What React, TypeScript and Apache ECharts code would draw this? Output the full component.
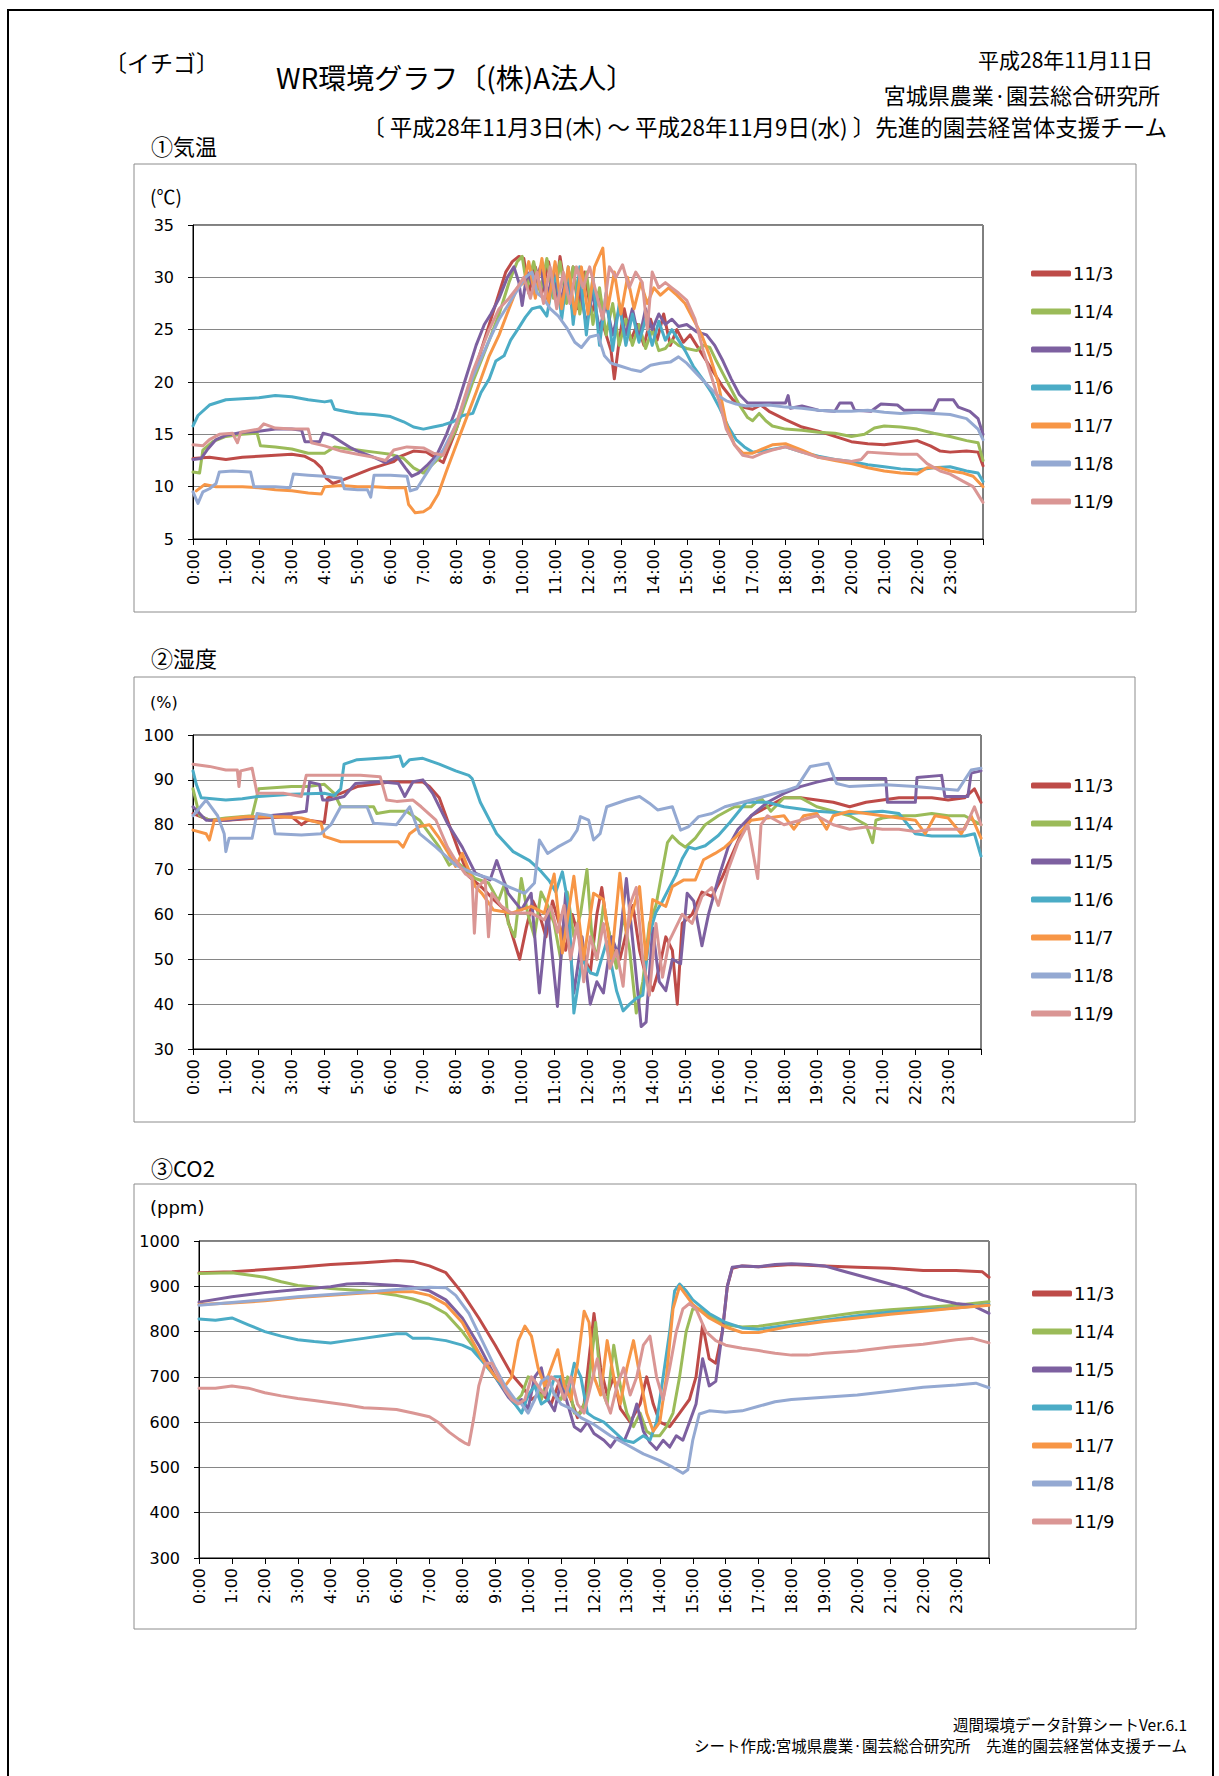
import React, { useEffect, useRef } from "react";
import * as echarts from "echarts";

type P = [number, number][];

const DAYS = ["11/3", "11/4", "11/5", "11/6", "11/7", "11/8", "11/9"];
const COLORS = ["#BE4B48", "#9BBB59", "#7D60A0", "#4BACC6", "#F79646", "#94A9D2", "#DA9694"];

const HOUR_LABELS = [
  "0:00", "1:00", "2:00", "3:00", "4:00", "5:00", "6:00", "7:00", "8:00", "9:00", "10:00", "11:00",
  "12:00", "13:00", "14:00", "15:00", "16:00", "17:00", "18:00", "19:00", "20:00", "21:00", "22:00", "23:00",
];
const TEMP_TICKS = [5, 10, 15, 20, 25, 30, 35];
const HUM_TICKS = [30, 40, 50, 60, 70, 80, 90, 100];
const CO2_TICKS = [300, 400, 500, 600, 700, 800, 900, 1000];

// ---------- ① temperature (hour, °C) ----------
const TEMP_11_3: P = [[0,12.7],[0.5,12.8],[1,12.6],[1.5,12.8],[2,12.9],[2.5,13],[3,13.1],[3.4,12.9],[3.7,12.4],[3.9,11.8],[4.05,10.8],[4.25,10.3],[4.6,10.7],[5,11.2],[5.4,11.7],[5.8,12.1],[6.1,12.4],[6.3,12.9],[6.7,13.4],[7.1,13.3],[7.4,12.7],[7.6,12.3],[8,15.5],[8.5,20.5],[9,25.5],[9.3,28.5],[9.5,30.5],[9.7,31.5],[9.9,32],[10.05,31.8],[10.2,28.5],[10.4,31],[10.6,28.5],[10.8,31.5],[11,28],[11.15,32],[11.35,28],[11.55,31],[11.7,27],[11.9,30.5],[12.1,26.5],[12.3,28.5],[12.5,25],[12.7,23],[12.8,20.3],[12.95,24],[13.1,27],[13.3,24],[13.5,25.5],[13.7,23.5],[13.9,26],[14.1,24],[14.3,26.5],[14.5,23.5],[14.7,25],[14.9,23.8],[15.1,24.5],[15.3,23.5],[15.5,22.5],[15.8,21],[16.1,19.5],[16.4,18.3],[16.7,17.6],[17,17.4],[17.25,17.8],[17.5,17.2],[18,16.4],[18.5,15.7],[19,15.3],[19.5,14.8],[20,14.3],[20.5,14.1],[21,14],[21.5,14.2],[22,14.4],[22.4,13.9],[22.7,13.4],[23,13.3],[23.5,13.4],[23.85,13.3],[24,12]];
const TEMP_11_4: P = [[0,11.4],[0.2,11.3],[0.3,13.5],[0.6,14.3],[1,14.8],[1.5,15],[1.95,15.1],[2.05,13.9],[2.5,13.8],[3,13.6],[3.5,13.2],[4,13.2],[4.3,13.8],[4.7,13.6],[5,13.5],[5.5,13.3],[6,13.1],[6.4,12.7],[6.7,11.8],[7,11.3],[7.3,12.2],[7.6,13.1],[8,15.5],[8.5,20],[9,24],[9.3,26.5],[9.6,29.5],[9.85,31.5],[10,32],[10.15,29],[10.35,31.5],[10.55,28.5],[10.75,31.8],[10.95,28],[11.15,31.5],[11.35,27.5],[11.55,31],[11.75,26.5],[11.95,30.5],[12.15,25.5],[12.35,29],[12.55,24.5],[12.75,27.5],[12.95,23.5],[13.15,26],[13.35,23.5],[13.55,25.5],[13.75,23.2],[13.95,25],[14.15,23],[14.35,23.2],[14.55,24],[14.75,23.5],[15,23.2],[15.3,23],[15.5,23.5],[15.7,23.3],[15.9,22],[16.1,20.8],[16.35,19.3],[16.6,17.8],[16.85,16.6],[17,16.3],[17.2,17],[17.4,16.3],[17.6,15.8],[18,15.5],[18.5,15.4],[19,15.2],[19.5,15.1],[20,14.8],[20.4,15],[20.7,15.6],[21,15.8],[21.5,15.7],[22,15.5],[22.5,15.1],[23,14.8],[23.5,14.4],[23.85,14.2],[24,12.5]];
const TEMP_11_5: P = [[0,12.6],[0.25,12.7],[0.45,13.6],[0.7,14.5],[1,14.9],[1.5,15.2],[2,15.3],[2.5,15.5],[3,15.5],[3.3,15.4],[3.4,14.3],[3.85,14.3],[3.95,15.1],[4.2,14.9],[4.5,14.3],[4.8,13.7],[5,13.4],[5.5,12.8],[5.85,12.3],[6.05,12.6],[6.2,12.9],[6.45,11.8],[6.65,11],[6.85,11.3],[7.1,12],[7.4,13],[7.7,15],[8,17.5],[8.3,20.5],[8.6,23.5],[8.85,25.5],[9.05,26.5],[9.3,28],[9.55,30],[9.75,31],[9.9,29.5],[10,27.3],[10.15,30.5],[10.35,29],[10.55,31],[10.75,28],[10.95,30.5],[11.15,27.5],[11.35,30],[11.55,26.5],[11.75,29],[11.95,25.5],[12.15,28.5],[12.35,25],[12.55,27.5],[12.75,24.5],[12.95,27],[13.15,24.5],[13.35,27],[13.55,24],[13.75,27],[13.95,25],[14.15,26.5],[14.35,25.5],[14.55,26],[14.75,25.3],[15,25.5],[15.3,24.8],[15.6,24.5],[15.85,23.5],[16.1,22],[16.35,20.3],[16.6,18.8],[16.85,18],[17.2,18],[17.6,18],[18,18],[18.08,18.7],[18.15,17.5],[18.5,17.7],[19,17.3],[19.5,17.2],[19.65,18],[20,18],[20.1,17.3],[20.6,17.2],[20.9,17.9],[21.4,17.8],[21.6,17.3],[22.5,17.3],[22.65,18.3],[23.1,18.3],[23.25,17.6],[23.6,17.2],[23.85,16.5],[24,15]];
const TEMP_11_6: P = [[0,15.8],[0.15,16.8],[0.5,17.8],[1,18.3],[1.5,18.4],[2,18.5],[2.5,18.7],[3,18.6],[3.5,18.3],[4,18.1],[4.2,18.2],[4.3,17.4],[4.6,17.2],[5,17],[5.5,16.9],[6,16.7],[6.4,16.2],[6.7,15.7],[7,15.5],[7.3,15.7],[7.6,15.9],[7.9,16.2],[8.2,16.8],[8.5,17],[8.75,19],[9,20.3],[9.2,22],[9.45,22.5],[9.65,24],[9.9,25.2],[10.1,26.2],[10.3,27],[10.55,27.2],[10.75,26.3],[10.9,29],[11.05,30.2],[11.2,26],[11.4,31],[11.55,25.5],[11.75,31],[11.95,24.5],[12.15,30],[12.35,23.5],[12.55,28.5],[12.75,23],[12.95,27.5],[13.15,23.5],[13.35,26.5],[13.55,23.8],[13.75,26],[13.95,23.5],[14.15,25.8],[14.35,24],[14.55,25],[14.75,24],[14.95,23],[15.2,21.5],[15.5,20.2],[15.75,19],[16,17.5],[16.25,15.8],[16.5,14.5],[16.75,13.8],[17,13.3],[17.5,13.5],[18,13.8],[18.5,13.3],[19,12.9],[19.5,12.6],[20,12.4],[20.5,12.1],[21,11.9],[21.5,11.7],[22,11.6],[22.5,11.8],[23,11.9],[23.5,11.5],[23.85,11.3],[24,10.5]];
const TEMP_11_7: P = [[0.1,9.6],[0.35,10.2],[0.7,10],[1.5,10],[2,9.9],[2.5,9.7],[3,9.6],[3.5,9.4],[3.9,9.3],[4,10],[4.5,10.1],[5,10],[5.5,10],[6,9.9],[6.45,9.9],[6.55,8.3],[6.75,7.5],[7,7.6],[7.2,8],[7.45,9.3],[7.7,11.5],[8,14],[8.3,16.5],[8.6,19],[9,22.5],[9.3,24.5],[9.6,27],[9.85,29],[10.05,29.5],[10.2,31.5],[10.4,28],[10.6,31.8],[10.8,27.5],[11,31.5],[11.2,27],[11.4,31],[11.6,26.5],[11.8,31],[12,26.5],[12.2,31],[12.45,32.8],[12.6,27],[12.8,30.5],[13,26.5],[13.2,30],[13.4,27],[13.6,29.5],[13.8,27.5],[14,29],[14.2,28.3],[14.45,29],[14.7,28.3],[14.95,27.5],[15.2,26],[15.45,24.5],[15.7,22.5],[15.95,20],[16.2,16],[16.45,14],[16.7,13.2],[17,13.2],[17.3,13.6],[17.6,14],[18,14.1],[18.5,13.5],[19,12.8],[19.5,12.5],[20,12.2],[20.5,11.8],[21,11.5],[21.5,11.3],[22,11.2],[22.3,11.8],[22.7,11.8],[23,11.5],[23.4,11.3],[23.7,11],[24,10]];
const TEMP_11_8: P = [[0,9.5],[0.15,8.4],[0.3,9.5],[0.5,9.8],[0.7,10.3],[0.8,11.4],[1.2,11.5],[1.75,11.4],[1.85,10],[2.5,10],[2.95,9.9],[3.05,11.2],[3.5,11.1],[4,11],[4.5,10.8],[4.6,9.8],[5,9.7],[5.3,9.7],[5.4,9],[5.5,11.1],[6,11.1],[6.5,11],[6.6,9.6],[6.8,9.8],[7,10.8],[7.3,12.3],[7.6,13.5],[8,16],[8.5,20.5],[9,24],[9.3,26],[9.6,27.5],[9.9,29],[10.1,30],[10.3,30.5],[10.45,28.5],[10.65,28],[10.85,27],[11.1,26.3],[11.35,25.2],[11.6,23.8],[11.8,23.3],[12.05,24.3],[12.3,24.5],[12.5,22.5],[12.7,21.8],[13,21.5],[13.3,21.2],[13.6,21],[13.9,21.6],[14.2,21.8],[14.5,21.9],[14.75,22.4],[15,21.8],[15.3,20.8],[15.6,19.8],[15.9,18.8],[16.2,18.2],[16.5,17.9],[16.8,17.7],[17.5,17.8],[18,17.6],[18.5,17.5],[19,17.3],[19.5,17.2],[20,17.2],[20.5,17.3],[21,17.1],[21.5,17],[22,17.1],[22.5,17],[23,16.9],[23.5,16.5],[23.85,15.5],[24,14.5]];
const TEMP_11_9: P = [[0,14],[0.3,13.9],[0.5,14.5],[0.8,15],[1.2,15.1],[1.35,14.2],[1.45,15.2],[2,15.5],[2.15,16],[2.5,15.6],[3,15.5],[3.5,15.5],[3.6,14.2],[4,13.9],[4.5,13.4],[5,13.1],[5.5,12.8],[5.85,12.5],[6.1,13.5],[6.5,13.8],[7,13.7],[7.3,13.2],[7.6,13],[8,16],[8.5,21],[9,25],[9.3,27],[9.6,28],[9.85,29],[10.05,30],[10.25,28],[10.45,30.5],[10.65,27.5],[10.85,31],[11.05,27],[11.25,30.5],[11.45,27.5],[11.65,31],[11.85,29],[12.05,31],[12.25,28.5],[12.45,26],[12.65,31],[12.85,30],[13.05,31.2],[13.25,29],[13.45,30.5],[13.65,29.5],[13.8,25],[13.95,30.5],[14.15,29],[14.35,29.5],[14.55,29],[14.75,28.5],[15,27.8],[15.25,26],[15.5,23],[15.75,20.5],[16,18],[16.2,15.5],[16.45,14],[16.7,13],[17,12.8],[17.3,13.2],[17.6,13.5],[18,13.8],[18.5,13.3],[19,12.8],[19.5,12.6],[20,12.4],[20.3,12.6],[20.5,13.3],[21,13.2],[21.5,13.1],[22,13.1],[22.3,12.2],[22.7,11.5],[23,11.2],[23.4,10.5],[23.7,10],[24,8.5]];

// ---------- ② humidity (hour, %) ----------
const HUM_11_3: P = [[0,82.5],[0.5,81],[1,81],[2,81.5],[3,81.8],[3.3,80],[3.5,81],[4,80.5],[4.1,86],[4.5,87],[5,88.5],[5.5,89],[6,89.5],[6.5,89.5],[7,89.5],[7.2,88.5],[7.5,86],[7.8,80],[8.1,74],[8.4,68.5],[8.8,66],[9.2,63],[9.5,61],[9.7,56],[9.95,50],[10.15,57],[10.35,63],[10.55,60],[10.75,55],[10.95,63],[11.15,58],[11.35,52],[11.55,60],[11.75,55],[11.95,50],[12.1,47],[12.3,60],[12.45,66],[12.6,58],[12.8,52],[13,50],[13.2,56],[13.4,62],[13.6,52],[13.8,46],[14,43],[14.2,48],[14.4,55],[14.6,52],[14.75,40],[14.9,58],[15.2,60],[15.5,65],[15.8,64],[16.1,68],[16.4,73],[16.7,78],[17,82],[17.5,84],[18,86],[18.5,86],[19,85.5],[19.5,85],[20,84],[20.5,85],[21,85.5],[21.5,86],[22,86],[22.5,86],[23,85.5],[23.5,86],[23.8,88],[24,85]];
const HUM_11_4: P = [[0,88],[0.2,82],[0.5,81],[1,81.5],[1.8,82],[2,88],[3,88.5],[3.5,88.5],[4,89],[4.3,87],[4.5,84],[5,84],[5.5,84],[5.6,82.5],[6,83],[6.5,83],[6.9,81],[7.2,78],[7.5,75],[7.8,71],[8,72],[8.3,70],[8.6,68],[9,67],[9.3,63],[9.5,67],[9.6,58],[9.8,55],[10,68],[10.2,60],[10.4,55],[10.6,65],[10.8,62],[11,58],[11.2,50],[11.4,65],[11.6,55],[11.8,60],[12,70],[12.15,55],[12.3,50],[12.5,62],[12.7,55],[12.9,48],[13.1,60],[13.3,52],[13.5,38],[13.7,45],[13.9,58],[14.1,62],[14.3,70],[14.45,76],[14.6,77.5],[14.8,76],[15,75],[15.3,77],[15.6,80],[16,82],[16.5,84],[17,84],[17.3,86],[17.6,83],[18,86],[18.5,86],[19,84],[19.5,83],[20,82],[20.5,80],[20.7,76],[20.8,81],[21,81.5],[21.5,82],[22,82],[22.5,82.5],[23,82],[23.5,82],[24,80]];
const HUM_11_5: P = [[0,84],[0.4,81],[1,81],[2,81.8],[3,82.5],[3.45,83],[3.55,89.5],[3.85,89],[3.95,85.5],[4.15,85.5],[4.6,86.3],[4.95,89.2],[5.7,89.6],[6.25,89.2],[6.45,86.3],[6.7,89.6],[7,90],[7.3,87],[7.75,80.3],[8.2,75],[8.6,69.2],[9.05,67.7],[9.25,72],[9.6,64.7],[10,61],[10.3,64.7],[10.55,42.5],[10.8,61],[11.1,39.5],[11.35,64.7],[11.6,42.5],[11.85,55],[12.1,40],[12.3,45],[12.5,42.5],[12.75,55],[12.95,51],[13.2,68],[13.45,50],[13.65,35],[13.8,36],[14,57],[14.2,45],[14.4,43],[14.6,50],[14.85,49],[15.05,64.7],[15.25,63],[15.5,53],[15.7,60],[16,68],[16.3,75],[16.6,79],[17,82],[17.5,85],[18,87],[18.5,88.5],[19,89.5],[19.5,90.3],[20,90.3],[20.5,90.3],[21.1,90.3],[21.15,85],[22,85],[22.05,90.5],[22.8,91],[22.9,86.3],[23.6,86.3],[23.7,91.5],[24,92]];
const HUM_11_6: P = [[0,92],[0.1,89],[0.25,86],[1,85.5],[1.5,85.8],[2,86.3],[3,86.8],[4,87],[4.3,86.5],[4.5,88],[4.6,93.5],[5,94.5],[6,95],[6.3,95.3],[6.4,93],[6.6,94.5],[7,94.8],[7.5,93.5],[8,92],[8.4,91],[8.5,90.3],[8.75,85],[9.25,78],[9.75,74],[10.25,72],[10.55,70],[10.85,67.5],[11.05,65],[11.25,69.5],[11.45,61.5],[11.6,38],[11.85,50],[12.1,47],[12.3,46.5],[12.6,54],[12.9,43],[13.1,38.5],[13.3,40],[13.5,41.3],[13.7,42],[13.9,55.5],[14.1,60.5],[14.3,63],[14.7,68.7],[14.9,72.4],[15.1,75],[15.3,74.6],[15.6,75.3],[16,77.6],[16.35,80.5],[16.85,85],[17.5,85],[18,84],[19,83],[20,82.5],[21,83],[21.5,82.5],[22,78],[22.5,77.5],[23,77.5],[23.5,77.5],[23.8,78],[24,73]];
const HUM_11_7: P = [[0,78.8],[0.4,78],[0.5,76.6],[0.65,81],[1.6,81.8],[2.75,81.8],[3.3,81.5],[3.9,80.3],[4,77.4],[4.5,76.2],[5.1,76.2],[6.25,76.2],[6.4,75],[6.6,78],[6.9,79.6],[7.2,80],[7.5,77],[7.75,74],[8,70.7],[8.2,73.6],[8.6,66.2],[8.8,64.7],[9.15,61],[9.7,60.3],[10.3,61.8],[10.7,60.3],[11,69],[11.25,51.4],[11.6,68.5],[11.9,50],[12.2,64.7],[12.5,63.3],[12.75,50],[13,69.2],[13.2,55.8],[13.6,66.2],[13.8,50],[14,63.3],[14.4,61.8],[14.6,66.2],[14.95,67.7],[15.3,67.7],[15.55,72.2],[15.9,73.6],[16.2,75],[16.5,77],[17,81],[17.5,81.5],[18,82],[18.3,79],[18.6,82],[19,82.5],[19.3,79],[19.5,82],[20,83],[21,82],[22,81],[22.3,78],[22.6,82],[23,81.5],[23.4,78],[23.7,82],[24,77]];
const HUM_11_8: P = [[0,82],[0.4,85.5],[0.75,82],[0.95,78],[1,74],[1.1,77],[1.8,77],[1.95,82.5],[2.4,82],[2.5,78],[3.3,77.7],[3.9,78],[4.2,80],[4.5,84],[5.3,84],[5.5,80.3],[6.2,80],[6.6,84],[6.9,78],[7.4,75],[8,71],[8.6,69],[9.2,67.7],[9.6,66.2],[10.1,64.7],[10.4,67],[10.55,76.6],[10.8,73.6],[11.1,75],[11.5,76.6],[11.7,78.8],[11.8,81.8],[12.05,81],[12.2,76.6],[12.4,78],[12.6,84],[13.2,85.5],[13.6,86.3],[13.9,84.8],[14.15,83.3],[14.6,84],[14.85,78.8],[15.1,79.6],[15.4,81.8],[15.8,82.5],[16.2,84],[17,85.5],[17.5,86.5],[18,87.5],[18.4,88.5],[18.8,93],[19.35,93.7],[19.6,89.2],[20,88.5],[21.1,88.9],[22,88.5],[23.3,87.7],[23.7,92.2],[24,92.6]];
const HUM_11_9: P = [[0,93.5],[0.5,93],[1,92.2],[1.35,92.2],[1.4,88.5],[1.45,92],[1.8,92.6],[1.95,87],[2.75,87],[3.3,86.3],[3.45,91],[4.5,91],[5.1,91],[5.7,90.7],[5.9,85.5],[6.2,85.2],[6.7,85.5],[6.95,84],[7.4,81],[7.75,75],[8,72],[8.3,69],[8.5,68],[8.57,55.8],[8.65,66],[8.9,67.7],[9,55],[9.1,64.7],[9.4,61.8],[9.7,60.3],[10.3,60.3],[10.7,58.8],[10.9,61.8],[11.1,56],[11.3,62],[11.5,50],[11.7,58],[11.9,45],[12.1,55],[12.3,50],[12.5,58],[12.7,48],[12.9,52],[13.1,44],[13.3,62],[13.5,66],[13.7,50],[13.9,42],[14.1,58],[14.3,46],[14.5,54],[14.7,57],[14.9,60],[15.2,58],[15.5,64],[15.8,66],[16,62],[16.3,70],[16.6,76],[16.9,80],[17.2,68],[17.3,80],[17.5,82],[18,80],[18.5,81],[19,82],[19.5,80],[20,79],[20.5,79.5],[21,79],[21.5,79],[22,78.5],[22.5,79],[23,79],[23.5,79],[23.8,84],[24,80]];

// ---------- ③ CO2 (hour, ppm) ----------
const CO2_11_3: P = [[0,930],[1,932],[2,937],[3,942],[4,948],[5,952],[6,957],[6.5,955],[7,945],[7.5,930],[8,885],[8.5,830],[9,770],[9.5,705],[9.8,680],[10.1,650],[10.4,665],[10.7,640],[11,700],[11.2,670],[11.5,610],[11.7,640],[12,840],[12.2,720],[12.4,660],[12.6,700],[12.8,630],[13.1,600],[13.4,640],[13.6,700],[13.8,640],[14,600],[14.3,590],[14.6,620],[14.9,650],[15.1,700],[15.3,815],[15.5,740],[15.7,730],[15.9,800],[16.05,900],[16.2,940],[16.5,945],[17,943],[18,948],[19,945],[20,942],[21,940],[22,935],[23,935],[23.8,932],[24,920]];
const CO2_11_4: P = [[0,928],[1,930],[2,920],[2.5,910],[3,902],[4,895],[5,890],[6,880],[6.5,872],[7,860],[7.5,840],[8,800],[8.3,770],[8.6,740],[9,700],[9.4,660],[9.6,645],[9.8,660],[10,700],[10.2,690],[10.4,650],[10.6,700],[10.8,660],[11,650],[11.2,700],[11.4,620],[11.6,620],[11.8,660],[12.05,820],[12.2,680],[12.4,640],[12.6,770],[12.8,680],[13,620],[13.2,590],[13.4,620],[13.6,580],[13.8,570],[14,570],[14.2,590],[14.4,620],[14.6,700],[14.8,800],[15,850],[15.2,850],[15.5,835],[16,815],[16.5,810],[17,812],[18,822],[19,832],[20,842],[21,848],[22,853],[23,858],[24,866]];
const CO2_11_5: P = [[0,865],[1,877],[2,886],[3,893],[4,899],[4.5,905],[5,906],[6,902],[6.5,898],[7,890],[7.5,870],[8,830],[8.5,770],[9,700],[9.4,655],[9.6,640],[9.8,650],[10,630],[10.2,700],[10.4,720],[10.6,650],[10.8,625],[11,690],[11.2,640],[11.4,590],[11.6,580],[11.8,600],[12,575],[12.3,560],[12.5,545],[12.7,565],[12.9,555],[13.1,590],[13.3,640],[13.5,580],[13.7,555],[13.9,540],[14.1,560],[14.3,545],[14.5,570],[14.7,560],[14.9,600],[15.1,640],[15.3,740],[15.5,680],[15.7,690],[15.9,800],[16.05,900],[16.2,942],[16.5,945],[17,943],[17.5,948],[18,950],[18.5,948],[19,945],[19.5,935],[20,925],[20.5,915],[21,905],[21.5,895],[22,880],[22.5,870],[23,862],[23.5,858],[24,840]];
const CO2_11_6: P = [[0,828],[0.5,825],[1,830],[1.5,815],[2,800],[2.5,790],[3,782],[3.5,778],[4,775],[4.5,780],[5,785],[5.5,790],[6,795],[6.3,795],[6.5,785],[7,785],[7.5,780],[8,770],[8.3,760],[8.6,735],[9,700],[9.3,670],[9.6,640],[9.8,620],[10,660],[10.2,680],[10.4,640],[10.6,650],[10.8,700],[11,700],[11.2,660],[11.4,730],[11.6,700],[11.8,620],[12,610],[12.3,600],[12.6,580],[12.9,560],[13.2,555],[13.5,570],[13.7,560],[13.9,600],[14.1,700],[14.3,800],[14.45,890],[14.6,905],[14.8,890],[15,870],[15.5,840],[16,820],[16.5,808],[17,805],[18,815],[19,825],[20,835],[21,843],[22,848],[23,852],[24,860]];
const CO2_11_7: P = [[0,860],[1,863],[2,868],[3,875],[4,880],[5,885],[6,888],[6.5,888],[7,880],[7.5,860],[8,820],[8.3,780],[8.6,740],[9,700],[9.3,680],[9.5,700],[9.7,780],[9.9,812],[10.1,790],[10.3,720],[10.5,680],[10.7,720],[10.9,760],[11.1,680],[11.3,650],[11.5,730],[11.7,845],[11.85,820],[12,700],[12.2,660],[12.4,780],[12.6,700],[12.8,640],[13,720],[13.2,780],[13.4,700],[13.6,620],[13.8,580],[14,600],[14.2,700],[14.4,850],[14.6,900],[14.8,880],[15,860],[15.5,830],[16,810],[16.5,798],[17,798],[18,812],[19,822],[20,830],[21,838],[22,845],[23,852],[24,858]];
const CO2_11_8: P = [[0,858],[1,864],[2,870],[3,877],[4,882],[5,887],[6,893],[7,898],[7.5,897],[7.8,880],[8.2,840],[8.6,780],[9,720],[9.3,680],[9.6,650],[9.8,640],[10,620],[10.2,650],[10.4,690],[10.6,700],[10.8,660],[11,640],[11.3,630],[11.6,610],[12,595],[12.5,570],[13,550],[13.5,530],[14,515],[14.4,500],[14.7,487],[14.85,495],[15,560],[15.2,618],[15.5,625],[16,622],[16.5,625],[17,635],[17.5,645],[18,650],[19,655],[20,660],[21,668],[22,677],[23,682],[23.6,686],[24,676]];
const CO2_11_9: P = [[0,675],[0.5,675],[1,680],[1.5,675],[2,665],[2.5,658],[3,652],[3.5,648],[4,643],[4.5,638],[5,632],[5.5,630],[6,628],[6.5,620],[7,612],[7.3,598],[7.6,578],[7.9,562],[8.1,553],[8.2,550],[8.35,610],[8.5,680],[8.7,730],[8.9,730],[9.1,700],[9.3,670],[9.5,650],[9.7,640],[9.9,650],[10.1,700],[10.3,680],[10.5,660],[10.7,700],[10.9,690],[11.1,650],[11.3,700],[11.5,640],[11.7,620],[11.9,680],[12.1,740],[12.3,660],[12.5,620],[12.7,680],[12.9,720],[13.1,660],[13.3,700],[13.5,770],[13.7,790],[13.9,700],[14.1,650],[14.3,720],[14.5,800],[14.7,850],[14.9,862],[15.1,850],[15.4,800],[15.7,780],[16,770],[16.5,763],[17,758],[17.5,752],[18,748],[18.5,748],[19,752],[20,757],[21,766],[22,772],[23,782],[23.5,785],[24,775]];

const TEMP_SERIES: P[] = [TEMP_11_3, TEMP_11_4, TEMP_11_5, TEMP_11_6, TEMP_11_7, TEMP_11_8, TEMP_11_9];
const HUM_SERIES: P[] = [HUM_11_3, HUM_11_4, HUM_11_5, HUM_11_6, HUM_11_7, HUM_11_8, HUM_11_9];
const CO2_SERIES: P[] = [CO2_11_3, CO2_11_4, CO2_11_5, CO2_11_6, CO2_11_7, CO2_11_8, CO2_11_9];

const JP = '"Noto Sans CJK JP", "Noto Sans", sans-serif';
const NUM = '"DejaVu Sans", sans-serif';

function txt(x: number, y: number, text: string, size: number, align: string = "left", family: string = JP) {
  return {
    type: "text",
    x,
    y,
    silent: true,
    style: {
      text,
      fill: "#000",
      fontSize: size,
      fontFamily: family,
      lineHeight: Math.round(size * 1.05),
      textAlign: align,
      align,
      textVerticalAlign: "middle",
      verticalAlign: "middle",
    },
  };
}

function box(x: number, y: number, w: number, h: number, stroke: string, lw: number) {
  return {
    type: "rect",
    silent: true,
    shape: { x, y, width: w, height: h },
    style: { fill: "none", stroke, lineWidth: lw },
  };
}

function yAxisOf(ticks: number[], gridIndex: number) {
  return {
    type: "value",
    gridIndex,
    min: ticks[0],
    max: ticks[ticks.length - 1],
    interval: ticks[1] - ticks[0],
    axisLine: { show: true, lineStyle: { color: "#000", width: 1 } },
    axisTick: { show: true, length: 5, lineStyle: { color: "#000" } },
    axisLabel: {
      color: "#000",
      fontSize: 16,
      fontFamily: NUM,
      margin: 19,
      formatter: (v: number) => String(v),
    },
    splitLine: { show: true, lineStyle: { color: "#868686", width: 1 } },
  };
}

function xAxisOf(gridIndex: number) {
  return {
    type: "value",
    gridIndex,
    min: 0,
    max: 24,
    interval: 1,
    axisLine: { show: true, onZero: false, lineStyle: { color: "#000", width: 1 } },
    axisTick: { show: true, length: 6, lineStyle: { color: "#000" } },
    axisLabel: {
      color: "#000",
      fontSize: 16,
      fontFamily: NUM,
      rotate: 90,
      margin: 10,
      showMaxLabel: true,
      formatter: (v: number) => HOUR_LABELS[Math.round(v)] ?? "",
    },
    splitLine: { show: false },
  };
}

function legendOf(left: number, top: number) {
  return {
    orient: "vertical",
    left,
    top,
    data: DAYS,
    selectedMode: false,
    icon: "roundRect",
    itemWidth: 40,
    itemHeight: 6,
    itemGap: 19,
    padding: 0,
    textStyle: { color: "#000", fontSize: 18, fontFamily: NUM, lineHeight: 19, padding: [0, 0, 0, -3] },
  };
}

export default function App() {
  const ref = useRef<HTMLDivElement | null>(null);

  useEffect(() => {
    if (!ref.current) return;
    const chart = echarts.init(ref.current, undefined, { renderer: "svg" });

    const series: any[] = [];
    const groups = [TEMP_SERIES, HUM_SERIES, CO2_SERIES];
    groups.forEach((g, gi) => {
      g.forEach((data, si) => {
        series.push({
          type: "line",
          name: DAYS[si],
          xAxisIndex: gi,
          yAxisIndex: gi,
          data,
          showSymbol: false,
          symbol: "none",
          color: COLORS[si],
          lineStyle: { color: COLORS[si], width: 3, cap: "round", join: "round" },
          emphasis: { disabled: true },
          z: 2 + si,
        });
      });
    });

    const option: any = {
      animation: false,
      backgroundColor: "#fff",
      grid: [
        { left: 193, top: 225, width: 790, height: 314, show: true, borderColor: "#000", borderWidth: 1, backgroundColor: "transparent" },
        { left: 193, top: 735, width: 788, height: 314, show: true, borderColor: "#000", borderWidth: 1, backgroundColor: "transparent" },
        { left: 199, top: 1241, width: 790, height: 317, show: true, borderColor: "#000", borderWidth: 1, backgroundColor: "transparent" },
      ],
      xAxis: [xAxisOf(0), xAxisOf(1), xAxisOf(2)],
      yAxis: [yAxisOf(TEMP_TICKS, 0), yAxisOf(HUM_TICKS, 1), yAxisOf(CO2_TICKS, 2)],
      legend: [legendOf(1031, 264), legendOf(1031, 776), legendOf(1032, 1284)],
      series,
      graphic: [
        box(8, 10, 1205, 1775, "#000", 2),
        box(134, 164, 1002, 448, "#8c8c8c", 1),
        box(134, 677, 1001, 445, "#8c8c8c", 1),
        box(134, 1184, 1002, 445, "#8c8c8c", 1),
        txt(104, 62, "〔イチゴ〕", 23),
        txt(276, 77, "WR環境グラフ〔(株)A法人〕", 28),
        txt(1153, 59, "平成28年11月11日", 21, "right"),
        txt(1160, 94, "宮城県農業·園芸総合研究所", 22, "right"),
        txt(1167, 126, "〔 平成28年11月3日(木) ～ 平成28年11月9日(水) 〕先進的園芸経営体支援チーム", 22.5, "right"),
        txt(151, 145, "①気温", 22),
        txt(151, 657, "②湿度", 22),
        txt(151, 1167, "③CO2", 22),
        txt(150, 195, "(℃)", 19, "left", JP),
        txt(150, 702, "(%)", 16, "left", NUM),
        txt(150, 1207, "(ppm)", 18, "left", NUM),
        txt(1187, 1724, "週間環境データ計算シートVer.6.1", 15.5, "right"),
        txt(1187, 1745, "シート作成:宮城県農業·園芸総合研究所　先進的園芸経営体支援チーム", 15.5, "right"),
      ],
    };

    chart.setOption(option);
    return () => chart.dispose();
  }, []);

  return (
    <div
      ref={ref}
      style={{ position: "absolute", left: 0, top: 0, width: 1219, height: 1776, background: "#fff" }}
    />
  );
}
